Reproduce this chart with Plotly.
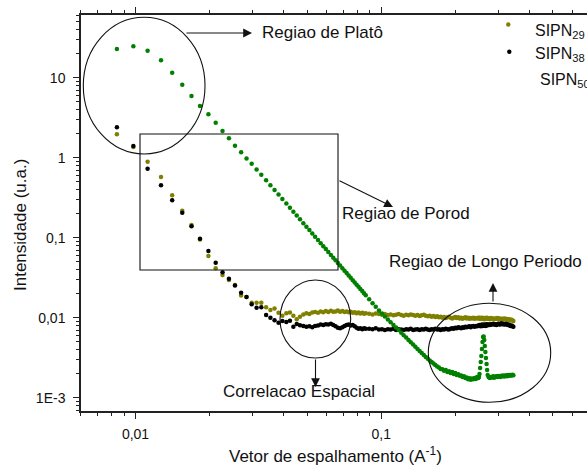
import plotly.graph_objects as go

# ---------------- data ----------------
q = [
    # native spacing
    0.0084, 0.0098, 0.0112, 0.0127, 0.0141, 0.0155, 0.0169, 0.0183, 0.0198, 0.0212,
    0.0226, 0.0240, 0.0254, 0.0269, 0.0283, 0.0297, 0.0311, 0.0325, 0.0340, 0.0354,
    0.0368, 0.0382, 0.0396, 0.0411, 0.0425, 0.0439, 0.0453, 0.0467, 0.0482, 0.0496,
    0.0510, 0.0524, 0.0538, 0.0553, 0.0567, 0.0581, 0.0595, 0.0609, 0.0624, 0.0638,
    0.0652, 0.0666, 0.0680, 0.0695, 0.0709, 0.0723, 0.0737, 0.0751, 0.0766, 0.0780,
    0.0794, 0.0808, 0.0822, 0.0837, 0.0851, 0.0865,
    # every second point
    0.0893, 0.0922, 0.0950, 0.0979, 0.1007, 0.1035, 0.1064, 0.1092, 0.1121, 0.1149,
    0.1177, 0.1206, 0.1234, 0.1263, 0.1291, 0.1319, 0.1348, 0.1376, 0.1405, 0.1433,
    0.1461, 0.1490, 0.1518, 0.1547, 0.1575, 0.1603, 0.1632, 0.1660, 0.1689, 0.1717,
    0.1745, 0.1774, 0.1802, 0.1831, 0.1859, 0.1887, 0.1916, 0.1944, 0.1973, 0.2001,
    0.2029, 0.2058, 0.2086, 0.2115, 0.2143, 0.2171, 0.2200, 0.2228, 0.2257, 0.2285,
    0.2313, 0.2342, 0.2370, 0.2399, 0.2427, 0.2455, 0.2484,
    # peak region
    0.2498, 0.2512, 0.2526, 0.2541, 0.2555, 0.2569, 0.2583, 0.2597, 0.2612, 0.2626,
    0.2640, 0.2654, 0.2668, 0.2683, 0.2697, 0.2711,
    # tail
    0.2739, 0.2768, 0.2796, 0.2825, 0.2853, 0.2881, 0.2910, 0.2938, 0.2967, 0.2995,
    0.3023, 0.3052, 0.3080, 0.3109, 0.3137, 0.3165, 0.3194, 0.3222, 0.3251, 0.3279,
    0.3307, 0.3336, 0.3364, 0.3393, 0.3421, 0.3449,
]

sipn29 = [
    1.96, 1.36, 0.891, 0.574, 0.339, 0.2175, 0.144, 0.0950, 0.0591, 0.0414,
    0.0342, 0.0296, 0.0256, 0.0189, 0.0182, 0.0154, 0.0154, 0.0154, 0.0135, 0.0125,
    0.0130, 0.0115, 0.0106, 0.0114, 0.0116, 0.0106, 0.0096, 0.0103, 0.0110, 0.0114,
    0.0111, 0.0116, 0.0118, 0.0115, 0.0120, 0.0117, 0.0121, 0.0118, 0.0122, 0.0119,
    0.0120, 0.0123, 0.0119, 0.0121, 0.0118, 0.0120, 0.0117, 0.0119, 0.0115, 0.0117,
    0.0114, 0.0116, 0.0113, 0.0115, 0.0112, 0.0114,
    0.0112, 0.0110, 0.0113, 0.0111, 0.0109, 0.0111, 0.0108, 0.0110, 0.0107, 0.0109,
    0.0111, 0.0108, 0.0106, 0.0109, 0.0107, 0.0110, 0.0108, 0.0106, 0.0108, 0.0105,
    0.0107, 0.0109, 0.0106, 0.0104, 0.0106, 0.0103, 0.0105, 0.0102, 0.0104, 0.0101,
    0.0103, 0.0100, 0.0102, 0.0099, 0.0101, 0.0103, 0.0100, 0.0098, 0.0100, 0.0102,
    0.0099, 0.0101, 0.0098, 0.0100, 0.0097, 0.0099, 0.0101, 0.0098, 0.0100, 0.0097,
    0.0099, 0.0098, 0.0100, 0.0097, 0.0099, 0.0098, 0.0100,
    0.0098, 0.0100, 0.0097, 0.0099, 0.0098, 0.0100, 0.0097, 0.0099, 0.0098, 0.0096,
    0.0099, 0.0097, 0.0098, 0.0100, 0.0097, 0.0099,
    0.0098, 0.0096, 0.0099, 0.0097, 0.0098, 0.0096, 0.0098, 0.0097, 0.0099, 0.0096,
    0.0098, 0.0097, 0.0095, 0.0097, 0.0096, 0.0098, 0.0095, 0.0097, 0.0096, 0.0094,
    0.0096, 0.0095, 0.0093, 0.0094, 0.0092, 0.0091,
]

sipn38 = [
    2.40, 1.40, 0.729, 0.452, 0.2934, 0.2054, 0.1388, 0.0972, 0.0682, 0.0487,
    0.0369, 0.0307, 0.0253, 0.0205, 0.0182, 0.0147, 0.0133, 0.0135, 0.0108, 0.0100,
    0.00928, 0.00866, 0.00909, 0.00884, 0.00917, 0.00772, 0.00834, 0.00804, 0.0079, 0.0077,
    0.0078, 0.0076, 0.0079, 0.0080, 0.0082, 0.0081, 0.0083, 0.0082, 0.0084, 0.0081,
    0.0078, 0.0075, 0.0074, 0.0076, 0.0079, 0.0081, 0.0082, 0.0080, 0.0081, 0.0078,
    0.0075, 0.0073, 0.0074, 0.0072, 0.0074, 0.0073,
    0.0073, 0.0072, 0.0074, 0.0071, 0.0072, 0.0070, 0.0072, 0.0071, 0.0073, 0.0070,
    0.0072, 0.0071, 0.0070, 0.0072, 0.0071, 0.0073, 0.0070, 0.0071, 0.0072, 0.0070,
    0.0072, 0.0071, 0.0073, 0.0071, 0.0070, 0.0072, 0.0071, 0.0073, 0.0071, 0.0072,
    0.0070, 0.0072, 0.0071, 0.0073, 0.0072, 0.0071, 0.0073, 0.0074, 0.0073, 0.0075,
    0.0074, 0.0076, 0.0075, 0.0074, 0.0076, 0.0075, 0.0077, 0.0076, 0.0077, 0.0078,
    0.0076, 0.0078, 0.0079, 0.0077, 0.0079, 0.0078, 0.0080,
    0.0079, 0.0081, 0.0080, 0.0078, 0.0080, 0.0082, 0.0079, 0.0081, 0.0080, 0.0082,
    0.0081, 0.0079, 0.0081, 0.0083, 0.0080, 0.0082,
    0.0082, 0.0081, 0.0083, 0.0082, 0.0084, 0.0082, 0.0083, 0.0081, 0.0083, 0.0084,
    0.0082, 0.0083, 0.0085, 0.0083, 0.0084, 0.0082, 0.0083, 0.0084, 0.0082, 0.0081,
    0.0082, 0.0080, 0.0079, 0.0080, 0.0078, 0.0077,
]

sipn50 = [
    22.8, 24.7, 21.8, 16.5, 11.5, 8.18, 5.91, 4.43, 3.49, 2.74,
    2.16, 1.75, 1.41, 1.17, 0.98, 0.84, 0.715, 0.612, 0.522, 0.452,
    0.395, 0.346, 0.304, 0.267, 0.237, 0.211, 0.189, 0.170, 0.152, 0.1376,
    0.1247, 0.1132, 0.1031, 0.0935, 0.0855, 0.0784, 0.0721, 0.0664, 0.0609, 0.0563,
    0.0521, 0.0483, 0.0449, 0.0415, 0.0387, 0.0361, 0.0337, 0.0315, 0.0294, 0.0276,
    0.0259, 0.0243, 0.0229, 0.0215, 0.0202, 0.0191,
    0.0170, 0.0152, 0.0137, 0.0123, 0.01128, 0.01035, 0.00953, 0.00879, 0.00811, 0.00754,
    0.0070, 0.00649, 0.00604, 0.00566, 0.00526, 0.00493, 0.00461, 0.00433, 0.00406, 0.00384,
    0.00362, 0.00342, 0.00323, 0.00306, 0.00292, 0.00279, 0.00268, 0.00256, 0.00245,
    0.00238, 0.00229, 0.00227, 0.00218, 0.00222, 0.00210, 0.00214, 0.00203, 0.00209, 0.00198,
    0.00203, 0.00192, 0.00197, 0.00188, 0.00190, 0.00181, 0.00185, 0.00176, 0.00179, 0.00170,
    0.00175, 0.00168, 0.00174, 0.00170, 0.00177, 0.00172, 0.00181, 0.00176,
    0.00182, 0.00198, 0.00235, 0.00279, 0.00332, 0.00406, 0.00497, 0.00574, 0.00582, 0.00526,
    0.00443, 0.00373, 0.00314, 0.00264, 0.00222, 0.00192,
    0.00180, 0.00176, 0.00182, 0.00179, 0.00185, 0.00178, 0.00183, 0.00186, 0.00181, 0.00187,
    0.00184, 0.00182, 0.00188, 0.00185, 0.00190, 0.00184, 0.00187, 0.00191, 0.00186, 0.00189,
    0.00193, 0.00188, 0.00192, 0.00190, 0.00194, 0.00191,
]

assert len(sipn29) == len(q), (len(sipn29), len(q))
assert len(sipn38) == len(q), (len(sipn38), len(q))
assert len(sipn50) == len(q), (len(sipn50), len(q))

series_names = ["SIPN<sub>29</sub>", "SIPN<sub>38</sub>", "SIPN<sub>50</sub>"]

x_major = [0.01, 0.1]
x_major_text = ["0,01", "0,1"]
x_minor = [0.006, 0.007, 0.008, 0.009, 0.02, 0.03, 0.04, 0.05, 0.06, 0.07, 0.08, 0.09,
           0.2, 0.3, 0.4, 0.5, 0.6]
y_major = [0.001, 0.01, 0.1, 1, 10]
y_major_text = ["1E-3", "0,01", "0,1", "1", "10"]
y_minor = [0.0007, 0.0008, 0.0009,
           0.002, 0.003, 0.004, 0.005, 0.006, 0.007, 0.008, 0.009,
           0.02, 0.03, 0.04, 0.05, 0.06, 0.07, 0.08, 0.09,
           0.2, 0.3, 0.4, 0.5, 0.6, 0.7, 0.8, 0.9,
           2, 3, 4, 5, 6, 7, 8, 9, 20, 30, 40, 50, 60]

# ---------------- layout helpers ----------------
W, H = 587, 465
ML, MR, MT, MB = 81, 0, 15, 54
PW, PH = W - ML - MR, H - MT - MB


def xp(px):
    return (px - ML) / PW


def yp(py):
    return (H - MB - py) / PH


FONT = "Liberation Sans, Arial, sans-serif"
OLIVE = "#808000"
GREEN = "#008000"
BLACK = "#000000"

fig = go.Figure()
for name, ys, col in [(series_names[0], sipn29, OLIVE),
                      (series_names[1], sipn38, BLACK),
                      (series_names[2], sipn50, GREEN)]:
    fig.add_trace(go.Scatter(x=q, y=ys, mode="markers", name=name,
                             marker=dict(color=col, size=4.5, line=dict(width=0)),
                             showlegend=False))

axis_common = dict(
    showgrid=False, zeroline=False, showline=True, linecolor="#222", linewidth=1.5,
    ticks="outside", ticklen=6, tickwidth=1.3, tickcolor="#222",
    tickfont=dict(family=FONT, size=14, color="#111"),
)

fig.update_xaxes(type="log", range=[-2.2218, -0.1626], tickmode="array",
                 tickvals=x_major, ticktext=x_major_text, mirror="ticks",
                 minor=dict(tickmode="array", tickvals=x_minor, ticks="outside",
                            ticklen=3.5, tickwidth=1.2, tickcolor="#222", showgrid=False),
                 ticklabelstandoff=3, **axis_common)
fig.update_yaxes(type="log", range=[-3.166, 1.784], tickmode="array",
                 tickvals=y_major, ticktext=y_major_text, mirror=False,
                 minor=dict(tickmode="array", tickvals=y_minor, ticks="outside",
                            ticklen=3.5, tickwidth=1.2, tickcolor="#222", showgrid=False),
                 ticklabelstandoff=5, **axis_common)

shapes = []
line_k = dict(color="#111", width=1.1)
# ellipses
for (x0, x1, y0, y1) in [(83.3, 205, 17.3, 154), (280, 350.7, 280, 358), (428.3, 550.7, 303.3, 402.3)]:
    shapes.append(dict(type="circle", xref="paper", yref="paper",
                       x0=xp(x0), x1=xp(x1), y0=yp(y1), y1=yp(y0), line=line_k))
# Porod rectangle
shapes.append(dict(type="rect", xref="paper", yref="paper",
                   x0=xp(140), x1=xp(338), y0=yp(270), y1=yp(134), line=line_k))
# legend markers
for (cx, cy, col) in [(508.3, 24.5, OLIVE), (509.3, 51.7, BLACK)]:
    shapes.append(dict(type="circle", xref="paper", yref="paper",
                       xsizemode="pixel", ysizemode="pixel",
                       xanchor=xp(cx), yanchor=yp(cy), x0=-2.2, x1=2.2, y0=-2.2, y1=2.2,
                       fillcolor=col, line=dict(width=0)))

ann = []
# arrows: (head_x, head_y, tail_x, tail_y)
for hx, hy, tx, ty in [(252, 33, 185, 33), (393, 207, 338, 180),
                       (315.5, 387, 315.5, 358), (493, 283, 493, 303)]:
    ann.append(dict(x=xp(hx), y=yp(hy), xref="paper", yref="paper", text="",
                    showarrow=True, ax=tx - hx, ay=ty - hy, axref="pixel", ayref="pixel",
                    arrowhead=2, arrowsize=1.6, arrowwidth=1.1, arrowcolor="#111"))

tfont = dict(family=FONT, size=17, color="#111")
for text, x, y, anchor in [("Regiao de Platô", 260, 32, "left"),
                           ("Regiao de Porod", 340, 213.5, "left"),
                           ("Regiao de Longo Periodo", 386.5, 261.5, "left"),
                           ("Correlacao Espacial", 221, 391.5, "left")]:
    ann.append(dict(x=xp(x), y=yp(y), xref="paper", yref="paper", text=text,
                    showarrow=False, xanchor=anchor, yanchor="middle", font=tfont))

# legend texts
lfont = dict(family=FONT, size=16, color="#111")
for text, x, y in [(series_names[0], 533, 31), (series_names[1], 533, 55), (series_names[2], 538, 81)]:
    ann.append(dict(x=xp(x), y=yp(y), xref="paper", yref="paper", text=text,
                    showarrow=False, xanchor="left", yanchor="middle", font=lfont))

# axis titles
ann.append(dict(x=xp(335), y=yp(455), xref="paper", yref="paper",
                text="Vetor de espalhamento (A<sup>-1</sup>)", showarrow=False,
                xanchor="center", yanchor="middle", font=tfont))
ann.append(dict(x=xp(20), y=yp(225), xref="paper", yref="paper",
                text="Intensidade (u.a.)", showarrow=False, textangle=-90,
                xanchor="center", yanchor="middle", font=tfont))

fig.update_layout(width=W, height=H, margin=dict(l=ML, r=MR, t=MT, b=MB, pad=0),
                  paper_bgcolor="white", plot_bgcolor="white",
                  shapes=shapes, annotations=ann, showlegend=False)

fig.write_html("out.html", config={"displayModeBar": False},
               post_script="document.body.style.margin='0';"
                           "document.body.style.overflow='hidden';")
